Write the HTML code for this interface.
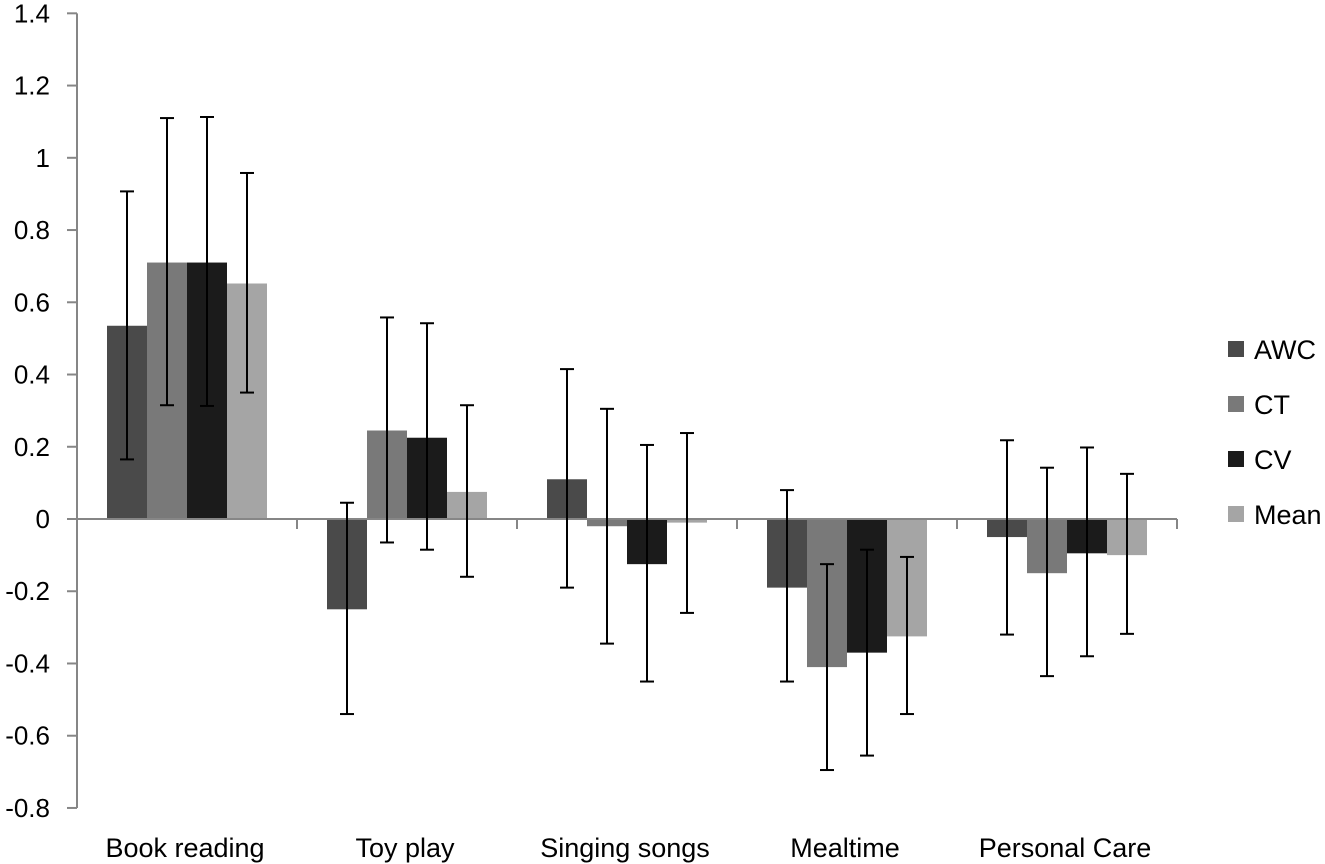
<!DOCTYPE html>
<html><head><meta charset="utf-8"><style>
html,body{margin:0;padding:0;background:#fff;}
svg{display:block;font-family:"Liberation Sans",sans-serif;}
</style></head><body>
<svg id="chart" width="1325" height="864" viewBox="0 0 1325 864"></svg>
<script>
const categories=["Book reading","Toy play","Singing songs","Mealtime","Personal Care"];
const seriesNames=["AWC","CT","CV","Mean"];
const awc=[0.535,-0.25,0.11,-0.19,-0.05];
const ct=[0.71,0.245,-0.02,-0.41,-0.15];
const cv=[0.71,0.225,-0.125,-0.37,-0.095];
const mean=[0.652,0.075,-0.01,-0.325,-0.1];
const awcLo=[0.165,-0.54,-0.19,-0.45,-0.32];
const awcHi=[0.907,0.045,0.415,0.08,0.218];
const ctLo=[0.315,-0.065,-0.345,-0.695,-0.435];
const ctHi=[1.11,0.558,0.305,-0.125,0.142];
const cvLo=[0.313,-0.085,-0.45,-0.655,-0.38];
const cvHi=[1.113,0.542,0.205,-0.085,0.198];
const meanLo=[0.35,-0.16,-0.26,-0.54,-0.318];
const meanHi=[0.958,0.315,0.238,-0.105,0.125];
const yTicks=[1.4,1.2,1,0.8,0.6,0.4,0.2,0,-0.2,-0.4,-0.6,-0.8];
const yTickLabels=["1.4","1.2","1","0.8","0.6","0.4","0.2","0","-0.2","-0.4","-0.6","-0.8"];

const colors=["#4a4a4a","#797979","#1b1b1b","#a5a5a5"];
const vals=[awc,ct,cv,mean],los=[awcLo,ctLo,cvLo,meanLo],his=[awcHi,ctHi,cvHi,meanHi];
const NS="http://www.w3.org/2000/svg";
const svg=document.getElementById('chart');
const X0=77,CW=220,BW=40,PAD=30;
const y=v=>519-(v)*361.2;
function mk(t,a){const e=document.createElementNS(NS,t);for(const k in a)e.setAttribute(k,a[k]);svg.appendChild(e);return e;}

let ax=mk('line',{x1:X0,y1:y(1.4),x2:X0,y2:y(-0.8),stroke:'#868686','stroke-width':2});


yTicks.forEach((t,i)=>{
  const tk=mk('line',{x1:X0-10,y1:y(t),x2:X0,y2:y(t),stroke:'#868686','stroke-width':2});
  
  
  const tx=mk('text',{x:50,y:y(t)+9,'text-anchor':'end','font-size':26,fill:'#000'});
  tx.textContent=yTickLabels[i];
  
  
});

categories.forEach((c,ci)=>{
  vals.forEach((s,si)=>{
    const x=X0+ci*CW+PAD+si*BW;
    const v=s[ci];
    const r=mk('rect',{x:x,y:Math.min(y(v),y(0)),width:BW,height:Math.abs(y(v)-y(0)),fill:colors[si]});
    
    
  });
});
let xa=mk('line',{x1:X0,y1:y(0),x2:X0+CW*5,y2:y(0),stroke:'#868686','stroke-width':2});


for(let i=1;i<=5;i++){
  const t=mk('line',{x1:X0+i*CW,y1:y(0),x2:X0+i*CW,y2:y(0)+10,stroke:'#868686','stroke-width':2});
  
  
}
categories.forEach((c,ci)=>{
  vals.forEach((s,si)=>{
    const cx=X0+ci*CW+PAD+si*BW+BW/2;
    const g=document.createElementNS(NS,'g');
    
    
    svg.appendChild(g);
    const a={stroke:'#000','stroke-width':2};
    [[cx,y(los[si][ci]),cx,y(his[si][ci])],[cx-7,y(los[si][ci]),cx+7,y(los[si][ci])],[cx-7,y(his[si][ci]),cx+7,y(his[si][ci])]].forEach(p=>{
      const l=document.createElementNS(NS,'line');
      l.setAttribute('x1',p[0]);l.setAttribute('y1',p[1]);l.setAttribute('x2',p[2]);l.setAttribute('y2',p[3]);
      for(const k in a)l.setAttribute(k,a[k]);
      g.appendChild(l);
    });
  });
  const t=mk('text',{x:X0+ci*CW+CW/2-2,y:857,'text-anchor':'middle','font-size':27,fill:'#000'});
  t.textContent=c;
  
  
});
seriesNames.forEach((n,i)=>{
  const yy=341+i*55;
  const r=mk('rect',{x:1228,y:yy,width:16,height:16,fill:colors[i]});
  
  
  const t=mk('text',{x:1254,y:yy+18,'font-size':27,fill:'#000'});
  t.textContent=n;
  
  
});
</script>
</body></html>
